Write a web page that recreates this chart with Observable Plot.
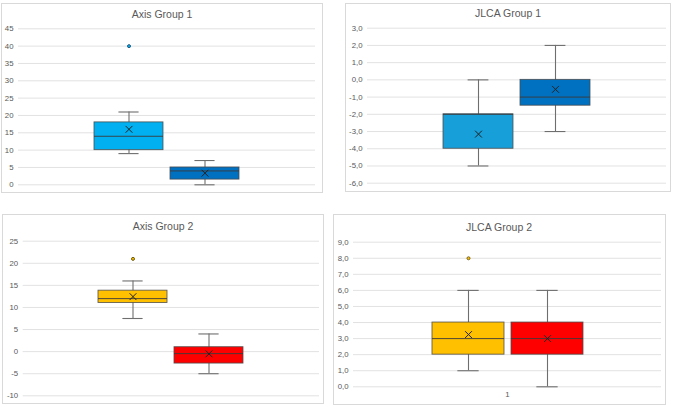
<!DOCTYPE html>
<html><head><meta charset="utf-8">
<script src="https://cdn.jsdelivr.net/npm/d3@7"></script>
<script src="https://cdn.jsdelivr.net/npm/@observablehq/plot@0.6"></script>
<style>
body{margin:0;background:#fff;width:673px;height:407px;overflow:hidden;position:relative;font-family:"Liberation Sans",Arial,sans-serif;}
.panel{position:absolute;border:1px solid #d9d9d9;box-sizing:border-box;background:#fff;}
.title{position:absolute;transform:translate(-50%,-50%);font-size:10.5px;color:#595959;white-space:nowrap;line-height:1;}
svg{position:absolute;overflow:visible;}
</style></head><body>
<script>
// ---- data ----
const panelTitles = ["Axis Group 1", "JLCA Group 1", "Axis Group 2", "JLCA Group 2"];
const seriesNames = ["Series 1", "Series 2"];
const whiskerLow  = [[9, 0], [-5, -3], [7.5, -5], [1, 0]];
const quartile1   = [[10, 1.5], [-4, -1.5], [11, -2.7], [2, 2]];
const medians     = [[14, 4], [-2, -1], [12, -0.45], [3, 3]];
const quartile3   = [[18, 5], [-2, 0], [13.8, 1], [4, 4]];
const whiskerHigh = [[21, 7], [0, 2], [16, 4], [6, 6]];
const means       = [[16, 3.35], [-3.15, -0.55], [12.45, -0.5], [3.25, 3.0]];
const outliers    = [[[40], []], [[], []], [[21], []], [[8], []]];
const yDomains    = [[0, 45], [-6, 3], [-10, 25], [0, 9]];
const yTicks = [
  [0, 5, 10, 15, 20, 25, 30, 35, 40, 45],
  [-6, -5, -4, -3, -2, -1, 0, 1, 2, 3],
  [-10, -5, 0, 5, 10, 15, 20, 25],
  [0, 1, 2, 3, 4, 5, 6, 7, 8, 9]
];
const decimalComma = [false, true, false, true];
const categoryLabels = [null, null, null, "1"];

// ---- styles / layout ----
const boxColors = [["#00B0F0", "#0070C0"], ["#179FD9", "#0070C0"], ["#FFC000", "#FF0000"], ["#FFC000", "#FF0000"]];
const outlierStroke = ["#1f5a80", "#1f5a80", "#6b5a10", "#7a6418"];
const layout = [
  {box: [1, 3, 323, 193], plot: [18, 315, 28.3, 184.3], title: [162, 13.5]},
  {box: [345, 3, 671, 192], plot: [367, 666, 27.7, 182.7], title: [508, 13]},
  {box: [2, 214, 324, 404], plot: [22.7, 319, 240.7, 395.3], title: [163, 225.5]},
  {box: [333, 214, 666, 405], plot: [353, 661, 241.7, 386.3], title: [499, 226.5]}
];

const pInner = 0.09, pOuter = 0.98;

panelTitles.forEach((title, i) => {
  const L = layout[i];
  const [bl, bt, br, bb] = L.box;
  const [x0, x1, yTop, yBot] = L.plot;
  const div = document.createElement("div");
  div.className = "panel";
  Object.assign(div.style, {left: bl + "px", top: bt + "px", width: (br - bl) + "px", height: (bb - bt) + "px"});
  document.body.appendChild(div);

  const rows = seriesNames.map((s, j) => ({
    s, lo: whiskerLow[i][j], q1: quartile1[i][j], med: medians[i][j],
    q3: quartile3[i][j], hi: whiskerHigh[i][j], mean: means[i][j], color: boxColors[i][j]
  }));
  const outs = [];
  seriesNames.forEach((s, j) => outliers[i][j].forEach(v => outs.push({s, v, color: boxColors[i][j]})));

  const W = x1 - x0;
  const step = W / (2 - pInner + 2 * pOuter);
  const bw = step * (1 - pInner);
  const capInset = bw * 0.35;
  const fmt = decimalComma[i] ? (d => d.toFixed(1).replace(".", ",")) : (d => String(d));

  const marks = [
    Plot.ruleY(yTicks[i], {stroke: "#e2e2e2", strokeWidth: 1}),
    Plot.axisY({ticks: yTicks[i], tickSize: 0, tickPadding: 5, tickFormat: fmt, fontSize: 7.8, fill: "#595959", label: null}),
    Plot.ruleX(rows, {x: "s", y1: "lo", y2: "hi", stroke: "#6e6e6e", strokeWidth: 1.1}),
    Plot.tickY(rows, {x: "s", y: "lo", stroke: "#6e6e6e", strokeWidth: 1.1, insetLeft: capInset, insetRight: capInset}),
    Plot.tickY(rows, {x: "s", y: "hi", stroke: "#6e6e6e", strokeWidth: 1.1, insetLeft: capInset, insetRight: capInset}),
    Plot.barY(rows, {x: "s", y1: "q1", y2: "q3", fill: "color", stroke: "#4a4a4a", strokeWidth: 0.9, strokeOpacity: 0.85}),
    Plot.tickY(rows, {x: "s", y: "med", stroke: "#3a3a3a", strokeWidth: 0.9}),
    Plot.dot(rows, {x: "s", y: "mean", symbol: "times", r: 3.2, stroke: "#222", strokeWidth: 1}),
    Plot.dot(outs, {x: "s", y: "v", r: 1.5, fill: "color", stroke: outlierStroke[i], strokeWidth: 1})
  ];
  if (categoryLabels[i]) {
    marks.push(Plot.text([categoryLabels[i]], {text: d => d, frameAnchor: "bottom", dy: 10.5, fontSize: 7.8, fill: "#595959"}));
  }

  const chart = Plot.plot({
    width: br - bl, height: bb - bt,
    marginLeft: x0 - bl, marginRight: br - x1, marginTop: yTop - bt, marginBottom: bb - yBot,
    x: {type: "band", domain: seriesNames, paddingInner: pInner, paddingOuter: pOuter, axis: null},
    y: {domain: yDomains[i], nice: false, axis: null},
    style: {background: "transparent", fontFamily: "'Liberation Sans', Arial, sans-serif", overflow: "visible"},
    marks
  });
  chart.style.left = bl + "px";
  chart.style.top = bt + "px";
  document.body.appendChild(chart);

  const t = document.createElement("div");
  t.className = "title";
  t.textContent = title;
  t.style.left = L.title[0] + "px";
  t.style.top = L.title[1] + "px";
  document.body.appendChild(t);
});
</script>
</body></html>
